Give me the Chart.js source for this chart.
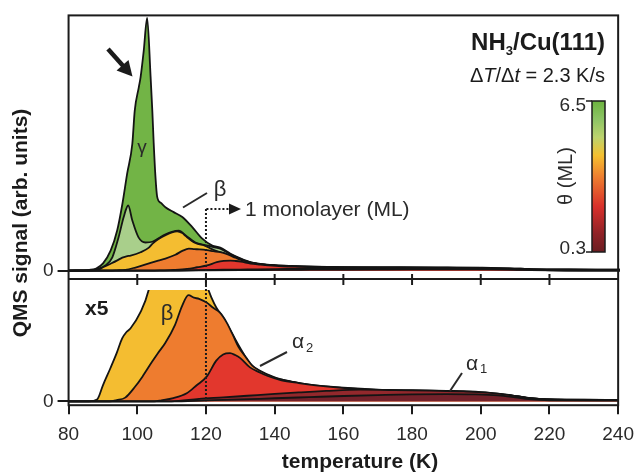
<!DOCTYPE html>
<html>
<head>
<meta charset="utf-8">
<script src="https://cdn.jsdelivr.net/npm/chart.js@4.4.1/dist/chart.umd.min.js"></script>
<style>
  html, body { margin: 0; padding: 0; background: #fff; }
  #wrap { position: relative; width: 643px; height: 472px; }
  #wrap canvas { position: absolute; left: 0; top: 0; }
</style>
</head>
<body>
<div id="wrap">
  <canvas id="topChart" width="643" height="472"></canvas>
  <canvas id="bottomChart" width="643" height="472"></canvas>
</div>
<script>
// TPD traces (QMS signal in arbitrary units, top-panel scale)
// gamma: highest coverage (6.5 ML)
const greenT = [80, 86, 88, 90, 92.2, 94.1, 95.6, 97, 98.5, 99.2, 100.4, 100.9, 101.8, 102.8, 103.8, 104.3, 104.7, 105.2, 105.7, 106.8, 108.1, 110.5, 113, 115.9, 118.8, 121.7, 124, 127, 130, 132.8, 137.7, 147, 162, 176, 190, 200, 208, 215, 225, 240];
const greenQ = [0, 0.3, 0.8, 2.8, 7.8, 15.7, 26, 38, 49.7, 62.7, 72, 75.8, 86, 99, 76, 62.7, 50, 37, 29, 26.5, 24.8, 22.9, 21, 17, 12.5, 9.8, 9.0, 6.6, 4.7, 3.3, 2.3, 1.7, 1.3, 1.3, 1.2, 1.1, 0.9, 0.6, 0.45, 0.4];

const lightGreenT = [80, 86, 88.8, 90.7, 92.7, 94.5, 96, 97.3, 98.5, 100.3, 102.3, 104.3, 106, 108, 110, 112, 114, 116.8, 120, 122, 124, 127, 130, 133, 138, 147, 160, 176, 190, 200, 208, 215, 225, 240];
const lightGreenQ = [0, 0.2, 0.8, 2, 5.2, 13, 21, 25.5, 19.6, 13, 11, 11.3, 12.6, 14.1, 15.2, 15.6, 13.8, 11, 9.9, 9.2, 8.6, 6.4, 4.5, 3.1, 2.2, 1.65, 1.3, 1.25, 1.15, 1.05, 0.85, 0.55, 0.42, 0.38];

// beta: about 1 ML
const yellowT = [80, 86, 88.3, 90, 92.2, 94, 95.6, 96.8, 98, 100.9, 103.3, 104.3, 106, 108, 110, 111.5, 113, 114, 116.8, 119.7, 121.6, 123, 125, 127, 130, 133, 136, 140, 145, 150, 160, 170, 180, 190, 200, 207, 214, 220, 230, 240];
const yellowQ = [0, 0, 0.15, 1.3, 2.7, 3.9, 5.1, 5.6, 5.9, 7.2, 9.0, 10.5, 12.3, 13.8, 15, 15.4, 14.7, 13.5, 10.8, 9.7, 8.4, 7.6, 6.8, 5.8, 4.3, 3.0, 2.4, 1.9, 1.6, 1.35, 1.1, 0.95, 0.9, 0.85, 0.75, 0.55, 0.28, 0.16, 0.13, 0.12];

const orangeT = [80, 92, 94, 96.5, 99.4, 101.5, 104.3, 106, 108.1, 111, 113, 114.9, 116.5, 118, 120.2, 122, 124, 126, 127.8, 129.5, 131.8, 133.5, 135.6, 140, 145, 150, 155, 160, 165, 178, 190, 197.4, 203, 207, 211, 214, 218, 225, 240];
const orangeQ = [0, 0, 0.1, 0.3, 1.2, 2.0, 3.2, 3.9, 4.7, 6.2, 7.7, 8.6, 8.4, 8.3, 8.0, 7.6, 7.2, 6.4, 5.4, 4.4, 3.5, 2.9, 2.5, 1.95, 1.57, 1.3, 1.12, 1.0, 0.9, 0.85, 0.8, 0.72, 0.62, 0.52, 0.4, 0.26, 0.18, 0.13, 0.1];

// alpha2
const redT = [80, 105, 107, 110.5, 114.4, 117.3, 120.2, 123, 125, 127, 128.5, 130, 132.8, 135.6, 138, 142, 147, 152, 162, 171, 180, 190, 197, 203, 207, 211, 214, 218, 225, 240];
const redQ = [0, 0, 0.08, 0.26, 0.65, 1.3, 2.0, 3.3, 3.8, 3.9, 3.75, 3.5, 2.75, 2.35, 2.05, 1.7, 1.48, 1.3, 1.04, 0.9, 0.84, 0.79, 0.7, 0.6, 0.5, 0.38, 0.25, 0.17, 0.12, 0.1];

// alpha1: lowest coverages
const brownT = [80, 110, 118, 125, 132, 140, 147, 155, 165, 175, 185, 195, 202, 207, 211, 214, 218, 225, 240];
const brownQ = [0, 0, 0.2, 0.32, 0.45, 0.6, 0.72, 0.84, 0.94, 0.91, 0.86, 0.8, 0.71, 0.56, 0.39, 0.26, 0.17, 0.12, 0.1];

const maroonT = [80, 110, 120, 130, 140, 150, 160, 170, 180, 190, 198, 205, 210, 214, 220, 240];
const maroonQ = [0, 0, 0.07, 0.15, 0.25, 0.34, 0.43, 0.5, 0.56, 0.58, 0.56, 0.48, 0.32, 0.17, 0.08, 0.06];

const tempTicks = [80, 100, 120, 140, 160, 180, 200, 220, 240];
const zeroTick = [0];
const magnification = 5;
const monolayerT = 120;
const coverageRange = ['0.3', '6.5'];

const FONT = "'Liberation Sans', Arial, Helvetica, sans-serif";
const INK = '#1b1b1b';
Chart.defaults.font.family = FONT;
Chart.defaults.color = '#2a2a2a';

function pts(ts, qs, gain) {
    return ts.map((t, i) => ({x: t, y: qs[i] * gain}));
}

function makeSet(ts, qs, color, label, gain) {
    return {
        label: label,
        data: pts(ts, qs, gain),
        backgroundColor: color,
        borderColor: '#141414',
        borderWidth: 1.8,
        pointRadius: 0,
        fill: 'origin',
        cubicInterpolationMode: 'monotone'
    };
}

// first entry is drawn last (on top)
const layers = [
    [maroonT, maroonQ, '#74212a', 'alpha1 low'],
    [brownT, brownQ, '#93282c', 'alpha1'],
    [redT, redQ, '#e2372d', 'alpha2'],
    [orangeT, orangeQ, '#ee7c2f', 'beta'],
    [yellowT, yellowQ, '#f4bd31', 'beta 1 ML'],
    [lightGreenT, lightGreenQ, '#a9cf8b', 'gamma low'],
    [greenT, greenQ, '#72b446', 'gamma']
];

function yAxis(min, max) {
    return {
        min: min, max: max,
        afterBuildTicks: s => { s.ticks = zeroTick.map(v => ({value: v})); },
        grid: {drawOnChartArea: false, tickLength: 11, color: INK, lineWidth: 2},
        border: {display: false},
        ticks: {padding: 4, font: {size: 19}, color: '#2a2a2a'}
    };
}

function drawText(ctx, str, x, y, font, align, base) {
    ctx.font = font;
    ctx.textAlign = align || 'left';
    ctx.textBaseline = base || 'middle';
    ctx.fillText(str, x, y);
}

function line(ctx, x1, y1, x2, y2) {
    ctx.beginPath();
    ctx.moveTo(x1, y1);
    ctx.lineTo(x2, y2);
    ctx.stroke();
}

// title, colour bar, arrow and labels of the upper panel
const topDecor = {
    id: 'topDecor',
    afterDraw(chart) {
        const ctx = chart.ctx;
        const x = chart.scales.x;
        ctx.save();
        ctx.fillStyle = INK;
        ctx.strokeStyle = INK;

        // NH3/Cu(111)
        const right = 605;
        ctx.font = 'bold 24px ' + FONT;
        const wNH = ctx.measureText('NH').width;
        const wRest = ctx.measureText('/Cu(111)').width;
        ctx.font = 'bold 13px ' + FONT;
        const w3 = ctx.measureText('3').width;
        let cx = right - wRest - w3 - wNH;
        drawText(ctx, 'NH', cx, 50, 'bold 24px ' + FONT, 'left', 'alphabetic');
        cx += wNH;
        drawText(ctx, '3', cx, 55, 'bold 13px ' + FONT, 'left', 'alphabetic');
        cx += w3;
        drawText(ctx, '/Cu(111)', cx, 50, 'bold 24px ' + FONT, 'left', 'alphabetic');

        // heating rate
        const rateParts = [['\u0394', ''], ['T', 'italic '], ['/\u0394', ''], ['t', 'italic '], [' = 2.3 K/s', '']];
        let total = 0;
        rateParts.forEach(([s, st]) => { ctx.font = st + '20px ' + FONT; total += ctx.measureText(s).width; });
        let px = right - total;
        rateParts.forEach(([s, st]) => {
            drawText(ctx, s, px, 82, st + '20px ' + FONT, 'left', 'alphabetic');
            px += ctx.measureText(s).width;
        });

        // colour bar
        const cb = {x: 592, y: 101, w: 13, h: 151};
        const g = ctx.createLinearGradient(0, cb.y + cb.h, 0, cb.y);
        [[0, '#6b1d21'], [0.12, '#8f2227'], [0.3, '#d8302b'], [0.5, '#ee7f2f'], [0.64, '#f4c030'],
         [0.76, '#bcd36e'], [0.88, '#8dc465'], [1, '#6cb33f']].forEach(([p, c]) => g.addColorStop(p, c));
        ctx.fillStyle = g;
        ctx.fillRect(cb.x, cb.y, cb.w, cb.h);
        ctx.lineWidth = 1.5;
        ctx.strokeRect(cb.x, cb.y, cb.w, cb.h);
        line(ctx, cb.x - 6, cb.y, cb.x, cb.y);
        line(ctx, cb.x - 6, cb.y + cb.h, cb.x, cb.y + cb.h);
        ctx.fillStyle = '#2a2a2a';
        drawText(ctx, coverageRange[1], cb.x - 6, cb.y + 5, '19px ' + FONT, 'right', 'middle');
        drawText(ctx, coverageRange[0], cb.x - 6, cb.y + cb.h - 3, '19px ' + FONT, 'right', 'middle');
        ctx.save();
        ctx.translate(566, 176);
        ctx.rotate(-Math.PI / 2);
        drawText(ctx, '\u03b8 (ML)', 0, 0, '20px ' + FONT, 'center', 'middle');
        ctx.restore();

        // arrow at the gamma shoulder
        ctx.fillStyle = INK;
        const tail = [108, 49], tip = [132.5, 76.5];
        const len = Math.hypot(tip[0] - tail[0], tip[1] - tail[1]);
        const d = [(tip[0] - tail[0]) / len, (tip[1] - tail[1]) / len];
        const n = [-d[1], d[0]];
        const base = [tip[0] - 15 * d[0], tip[1] - 15 * d[1]];
        ctx.lineWidth = 4.5;
        line(ctx, tail[0], tail[1], base[0] + d[0], base[1] + d[1]);
        ctx.beginPath();
        ctx.moveTo(tip[0], tip[1]);
        ctx.lineTo(base[0] + 8 * n[0], base[1] + 8 * n[1]);
        ctx.lineTo(base[0] - 8 * n[0], base[1] - 8 * n[1]);
        ctx.closePath();
        ctx.fill();

        // peak labels
        ctx.fillStyle = '#2a2a2a';
        drawText(ctx, '\u03b3', 142, 148, '19px ' + FONT, 'center', 'middle');
        drawText(ctx, '\u03b2', 220, 190, '22px ' + FONT, 'center', 'middle');
        ctx.lineWidth = 2;
        ctx.strokeStyle = '#2a2a2a';
        line(ctx, 183, 207.5, 207, 193);

        // 1 monolayer marker
        const mx = x.getPixelForValue(monolayerT);
        ctx.setLineDash([2, 2]);
        ctx.strokeStyle = INK;
        line(ctx, mx, 209, 229, 209);
        ctx.setLineDash([]);
        ctx.fillStyle = INK;
        ctx.beginPath();
        ctx.moveTo(241, 209);
        ctx.lineTo(229, 203.5);
        ctx.lineTo(229, 214.5);
        ctx.closePath();
        ctx.fill();
        ctx.fillStyle = '#2a2a2a';
        drawText(ctx, '1 monolayer (ML)', 245, 210, '21px ' + FONT, 'left', 'middle');
        ctx.restore();
    }
};

let topChart = new Chart(document.getElementById('topChart'), {
    type: 'line',
    data: {datasets: layers.map(l => makeSet(l[0], l[1], l[2], l[3], 1))},
    options: {
        responsive: false,
        animation: false,
        layout: {padding: {top: 15, right: 23, bottom: 193, left: 39}},
        plugins: {legend: {display: false}, tooltip: {enabled: false}},
        scales: {
            x: {type: 'linear', min: 80, max: 240, display: false},
            y: yAxis(-3.3, 100)
        }
    },
    plugins: [topDecor]
});

// frame, dotted monolayer line, lower-panel labels and axis titles
const bottomDecor = {
    id: 'bottomDecor',
    afterDraw(chart) {
        const ctx = chart.ctx;
        const x = chart.scales.x;
        const y = chart.scales.y;
        const yt = topChart.scales.y;
        ctx.save();
        ctx.strokeStyle = INK;
        ctx.fillStyle = INK;

        // dotted 1 ML line through both panels
        const mx = x.getPixelForValue(monolayerT);
        ctx.lineWidth = 2;
        ctx.setLineDash([2, 2]);
        line(ctx, mx, 209, mx, y.getPixelForValue(0));
        ctx.setLineDash([]);

        // frame and divider
        ctx.lineWidth = 2;
        ctx.strokeRect(x.left, yt.top, x.right - x.left, y.bottom - yt.top);
        const div = yt.bottom;
        line(ctx, x.left, div, x.right, div);
        tempTicks.forEach(t => {
            const tx = x.getPixelForValue(t);
            if (tx > x.left + 2 && tx < x.right - 2) line(ctx, tx, div - 5, tx, div + 6);
        });

        // lower panel labels
        ctx.fillStyle = INK;
        drawText(ctx, 'x' + magnification, 85, 309, 'bold 21px ' + FONT, 'left', 'middle');
        ctx.fillStyle = '#2a2a2a';
        drawText(ctx, '\u03b2', 167, 314, '22px ' + FONT, 'center', 'middle');
        drawText(ctx, '\u03b1', 298, 342, '21px ' + FONT, 'center', 'middle');
        drawText(ctx, '2', 306, 348, '13px ' + FONT, 'left', 'middle');
        drawText(ctx, '\u03b1', 472, 364, '21px ' + FONT, 'center', 'middle');
        drawText(ctx, '1', 480, 369, '13px ' + FONT, 'left', 'middle');
        ctx.strokeStyle = '#2a2a2a';
        ctx.lineWidth = 2;
        line(ctx, 260, 366, 287, 352);
        line(ctx, 450, 391, 462, 373);

        // axis titles
        ctx.fillStyle = INK;
        drawText(ctx, 'temperature (K)', 360, 462, 'bold 21px ' + FONT, 'center', 'middle');
        ctx.save();
        ctx.translate(21, 223);
        ctx.rotate(-Math.PI / 2);
        drawText(ctx, 'QMS signal (arb. units)', 0, 0, 'bold 21px ' + FONT, 'center', 'middle');
        ctx.restore();
        ctx.restore();
    }
};

let bottomChart = new Chart(document.getElementById('bottomChart'), {
    type: 'line',
    data: {datasets: layers.slice(0, 5).map(l => makeSet(l[0], l[1], l[2], l[3], magnification))},
    options: {
        responsive: false,
        animation: false,
        layout: {padding: {top: 290, right: 23, bottom: 17, left: 39}},
        plugins: {legend: {display: false}, tooltip: {enabled: false}},
        scales: {
            x: {
                type: 'linear', min: 80, max: 240,
                afterBuildTicks: s => { s.ticks = tempTicks.map(v => ({value: v})); },
                grid: {drawOnChartArea: false, tickLength: 9, color: INK, lineWidth: 2},
                border: {display: false},
                ticks: {padding: 9, font: {size: 19}, color: '#2a2a2a', maxRotation: 0}
            },
            y: yAxis(-1.57, 45.1)
        }
    },
    plugins: [bottomDecor]
});
</script>
</body>
</html>
